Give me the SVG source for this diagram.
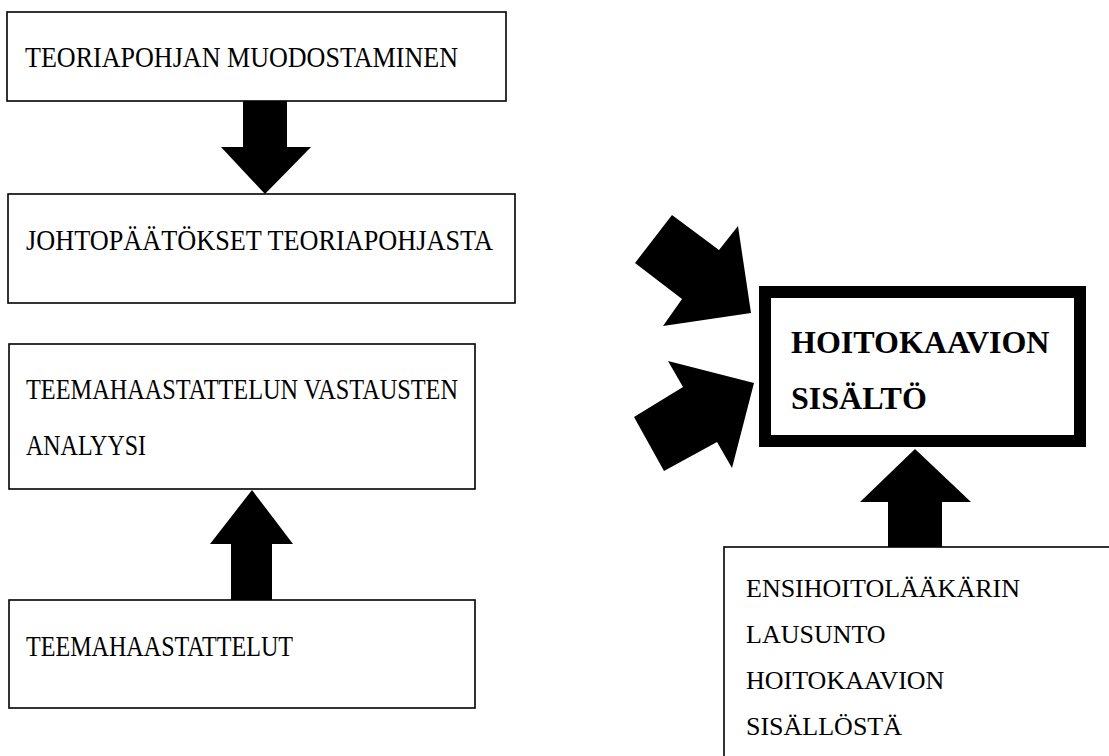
<svg xmlns="http://www.w3.org/2000/svg" width="1109" height="756" viewBox="0 0 1109 756">
<style>
.box{fill:#fff;stroke:#000;stroke-width:1.6}
.t{font-family:"Liberation Serif","Times New Roman",serif;font-size:30px;fill:#000}
.s{font-family:"Liberation Serif","Times New Roman",serif;font-size:26px;fill:#000}
.b{font-family:"Liberation Serif","Times New Roman",serif;font-size:32px;font-weight:bold;fill:#000}
.arr{fill:#000}
</style>
<rect width="1109" height="756" fill="#fff"/>
<g id="connectors">
<polygon class="arr" points="243,101 287,101 287,147 311,147 265,194 221,147 243,147"/>
<polygon class="arr" points="252,490 293,544 272,544 272,600 231,600 231,544 210,544"/>
<polygon class="arr" points="915,449 971,502 942,502 942,548 888,548 888,502 860,502"/>
<polygon class="arr" points="635,263 672,215 719,250 738,226 751,313 663,326 682,299"/>
<polygon class="arr" points="634,417 683,387 668,361 754,383 732,468 717,442 664,471"/>
</g>
<g id="n1">
<rect class="box" x="7" y="12" width="499" height="89"/>
<text class="t" x="25" y="67" textLength="433" lengthAdjust="spacingAndGlyphs">TEORIAPOHJAN MUODOSTAMINEN</text>
</g>
<g id="n2">
<rect class="box" x="8" y="194" width="507" height="109"/>
<text class="t" x="26" y="250" textLength="467" lengthAdjust="spacingAndGlyphs">JOHTOPÄÄTÖKSET TEORIAPOHJASTA</text>
</g>
<g id="n3">
<rect class="box" x="9" y="344" width="466" height="145"/>
<text class="t" x="26" y="399" textLength="432" lengthAdjust="spacingAndGlyphs">TEEMAHAASTATTELUN VASTAUSTEN</text>
<text class="t" x="26" y="455" textLength="120" lengthAdjust="spacingAndGlyphs">ANALYYSI</text>
</g>
<g id="n4">
<rect class="box" x="9" y="600" width="466" height="108"/>
<text class="t" x="26" y="656" textLength="267" lengthAdjust="spacingAndGlyphs">TEEMAHAASTATTELUT</text>
</g>
<g id="n5">
<rect x="765" y="292" width="315" height="149" fill="#fff" stroke="#000" stroke-width="12"/>
<text class="b" x="791" y="353">HOITOKAAVION</text>
<text class="b" x="791" y="409">SISÄLTÖ</text>
</g>
<g id="n6">
<rect class="box" x="724" y="547" width="420" height="260"/>
<text class="s" x="746" y="597">ENSIHOITOLÄÄKÄRIN</text>
<text class="s" x="746" y="643">LAUSUNTO</text>
<text class="s" x="746" y="689">HOITOKAAVION</text>
<text class="s" x="746" y="735">SISÄLLÖSTÄ</text>
</g>
</svg>
